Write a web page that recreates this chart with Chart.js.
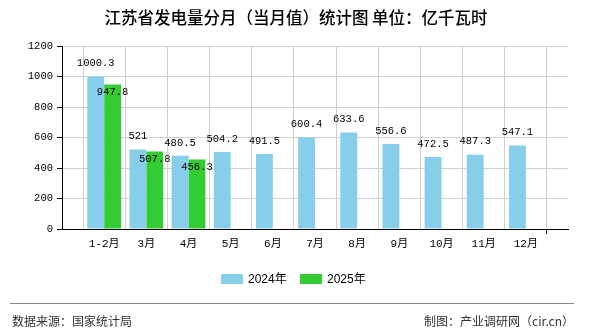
<!DOCTYPE html>
<html><head><meta charset="utf-8">
<script src="https://cdn.jsdelivr.net/npm/chart.js@4"></script>
<style>html,body{margin:0;padding:0;background:#fff}#wrap{width:590px;height:330px;position:relative}</style>
</head><body><div id="wrap"><canvas id="c" width="590" height="330"></canvas></div>
<script>
const categories = ['1-2月','3月','4月','5月','6月','7月','8月','9月','10月','11月','12月'];
const values2024 = [1000.3, 521, 480.5, 504.2, 491.5, 600.4, 633.6, 556.6, 472.5, 487.3, 547.1];
const values2025 = [947.8, 507.8, 456.3, null, null, null, null, null, null, null, null];
const seriesNames = ['2024年','2025年'];
const yTicks = [0,200,400,600,800,1000,1200];
const titleText = '江苏省发电量分月（当月值）统计图 单位：亿千瓦时';
const sourceText = '数据来源：国家统计局';
const makerText = '制图：产业调研网（cir.cn）';

const NUMFONT = '"Liberation Mono","Noto Sans CJK SC",monospace';
const labels = [''].concat(categories, ['']);
const pad = a => [null].concat(a, [null]);

const extras = {
  id: 'extras',
  afterDatasetsDraw(chart) {
    const ctx = chart.ctx;
    ctx.save();
    ctx.font = '10.5px ' + NUMFONT;
    ctx.fillStyle = '#000';
    ctx.textAlign = 'center';
    ctx.textBaseline = 'middle';
    chart.data.datasets.forEach((ds, di) => {
      const meta = chart.getDatasetMeta(di);
      meta.data.forEach((bar, i) => {
        const v = ds.data[i];
        if (v === null || v === undefined) return;
        const y = di === 0 ? bar.y - 13 : bar.y + 8;
        ctx.fillText(String(v), bar.x, y);
      });
    });
    ctx.restore();
  },
  afterDraw(chart) {
    const ctx = chart.ctx;
    ctx.save();
    ctx.fillStyle = '#000';
    ctx.font = '500 16.5px "Noto Sans CJK SC",sans-serif';
    ctx.textAlign = 'center';
    ctx.textBaseline = 'middle';
    ctx.fillText(titleText, 296, 18);
    ctx.font = '12px "Liberation Sans","Noto Sans CJK SC",sans-serif';
    ctx.textAlign = 'left';
    const lx = [221, 300];
    chart.data.datasets.forEach((ds, di) => {
      ctx.fillStyle = ds.backgroundColor;
      ctx.fillRect(lx[di], 274, 22, 10);
      ctx.fillStyle = '#000';
      ctx.fillText(ds.label, lx[di] + 27, 279.5);
    });
    ctx.strokeStyle = '#888';
    ctx.lineWidth = 1;
    ctx.beginPath();
    ctx.moveTo(10, 303.5);
    ctx.lineTo(574, 303.5);
    ctx.stroke();
    ctx.fillStyle = '#333';
    ctx.font = '12px "Noto Sans CJK SC",sans-serif';
    ctx.textAlign = 'left';
    ctx.fillText(sourceText, 12, 321);
    ctx.textAlign = 'right';
    ctx.fillText(makerText, 574, 321);
    ctx.restore();
  }
};

new Chart(document.getElementById('c'), {
  type: 'bar',
  data: {
    labels: labels,
    datasets: [
      { label: seriesNames[0], data: pad(values2024), backgroundColor: '#87CEEB', categoryPercentage: 0.8, barPercentage: 1.0 },
      { label: seriesNames[1], data: pad(values2025), backgroundColor: '#33CC33', categoryPercentage: 0.8, barPercentage: 1.0 }
    ]
  },
  options: {
    responsive: false,
    animation: false,
    layout: { padding: { left: 0, right: 22, top: 46, bottom: 71 } },
    plugins: { legend: { display: false }, tooltip: { enabled: false }, title: { display: false } },
    scales: {
      x: {
        offset: false,
        grid: {
          color: '#d0d0d0',
          tickLength: 5,
          tickColor: c => (c.index === 0 || c.index === labels.length - 1) ? '#000' : 'rgba(0,0,0,0)'
        },
        border: { color: '#000', width: 1 },
        ticks: { color: '#000', font: { family: NUMFONT, size: 11 }, padding: 3, maxRotation: 0, autoSkip: false },
        afterFit: s => { s.height = 30; }
      },
      y: {
        min: 0, max: 1200,
        afterBuildTicks: s => { s.ticks = yTicks.map(v => ({ value: v })); },
        grid: { color: '#d0d0d0', tickLength: 5, tickColor: '#000' },
        border: { color: '#000', width: 1 },
        ticks: { color: '#000', font: { family: NUMFONT, size: 10.5 }, padding: 4, callback: v => String(v) },
        afterFit: s => { s.width = 62; }
      }
    }
  },
  plugins: [extras]
});
</script></body></html>
